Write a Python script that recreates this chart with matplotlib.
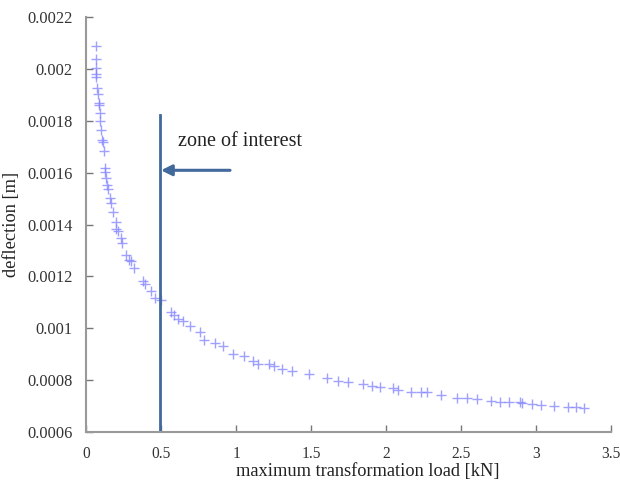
import matplotlib
matplotlib.use("Agg")
import matplotlib.pyplot as plt

load_kN = [0.065, 0.065, 0.065, 0.068, 0.068, 0.074, 0.078, 0.085, 0.087, 0.092, 0.096, 0.103,
           0.110, 0.114, 0.121, 0.130, 0.130, 0.132, 0.143, 0.148, 0.158, 0.165, 0.181,
           0.198, 0.203, 0.214, 0.231, 0.241, 0.269, 0.285, 0.298, 0.318, 0.380, 0.390,
           0.436, 0.458, 0.502, 0.568, 0.586, 0.613, 0.646, 0.690, 0.763, 0.786,
           0.861, 0.912, 0.979, 1.056, 1.112, 1.145, 1.222, 1.251, 1.304, 1.371,
           1.488, 1.606, 1.677, 1.743, 1.843, 1.903, 1.960, 2.049, 2.080, 2.169,
           2.231, 2.271, 2.368, 2.475, 2.537, 2.603, 2.696, 2.758, 2.818, 2.891,
           2.907, 2.973, 3.033, 3.117, 3.210, 3.268, 3.316]
deflection_m = [0.002088, 0.002038, 0.002003, 0.00198, 0.001967, 0.001926, 0.001903, 0.001868,
                0.00186, 0.00183, 0.0018, 0.001765, 0.001727, 0.00172, 0.001685, 0.001618,
                0.001601, 0.00158, 0.001554, 0.001537, 0.001503, 0.001483, 0.001447,
                0.001409, 0.001381, 0.001374, 0.001349, 0.00133, 0.001281, 0.001263,
                0.001259, 0.001233, 0.001182, 0.001172, 0.001143, 0.001118, 0.001109,
                0.001063, 0.00105, 0.001035, 0.001028, 0.001009, 0.000986, 0.000955,
                0.000945, 0.000932, 0.0009, 0.000894, 0.000874, 0.000862, 0.000862,
                0.000855, 0.000842, 0.000836, 0.000823, 0.000807, 0.000797, 0.000791,
                0.000785, 0.000778, 0.000772, 0.000768, 0.000763, 0.000755, 0.000753,
                0.000753, 0.000742, 0.000733, 0.000733, 0.000727, 0.00072, 0.000717,
                0.000714, 0.000714, 0.000712, 0.000708, 0.000704, 0.000701, 0.000695,
                0.000695, 0.000691]

x_ticks = [0, 0.5, 1, 1.5, 2, 2.5, 3, 3.5]
x_tick_labels = ["0", "0.5", "1", "1.5", "2", "2.5", "3", "3.5"]
y_ticks = [0.0006, 0.0008, 0.001, 0.0012, 0.0014, 0.0016, 0.0018, 0.002, 0.0022]
y_tick_labels = ["0.0006", "0.0008", "0.001", "0.0012", "0.0014", "0.0016", "0.0018", "0.002", "0.0022"]

zone_x = 0.49
zone_top = 0.001823
arrow_y = 0.001609
arrow_start_x = 0.96
annotation = "zone of interest"

plt.rcParams['font.family'] = ['Liberation Serif', 'DejaVu Serif']

fig = plt.figure(figsize=(6.2, 4.87), dpi=100)
ax = fig.add_axes([0.1387, 0.1129, 0.8470, 0.8522])

ax.plot(load_kN, deflection_m, linestyle='none', marker='+', markersize=7.5,
        markeredgewidth=1.0, color='#8080ff', alpha=0.75)

ax.plot([zone_x, zone_x], [0.0006, zone_top], color='#41699c', linewidth=2)
ax.annotate('', xy=(zone_x + 0.01, arrow_y), xytext=(arrow_start_x, arrow_y),
            arrowprops=dict(arrowstyle='-|>', color='#41699c', lw=2.2,
                            mutation_scale=16, shrinkA=0, shrinkB=0))
ax.text(0.612, 0.00172, annotation, fontsize=14.5, va='center', ha='left', color='#222222')

ax.set_xlim(0, 3.5)
ax.set_ylim(0.0006, 0.0022)
ax.set_xticks(x_ticks)
ax.set_xticklabels(x_tick_labels)
ax.set_yticks(y_ticks)
ax.set_yticklabels(y_tick_labels)
ax.tick_params(direction='in', length=5, width=1, color='#777777',
               labelcolor='#333333')
ax.tick_params(axis='y', pad=9.5, labelsize=11.8)
ax.tick_params(axis='x', pad=10, labelsize=11.2)

for s in ['top', 'right']:
    ax.spines[s].set_visible(False)
for s in ['left', 'bottom']:
    ax.spines[s].set_color('#999999')
    ax.spines[s].set_linewidth(1.5)

ax.set_xlabel('maximum transformation load [kN]', fontsize=13.2, color='#222222', labelpad=3)
ax.xaxis.set_label_coords(0.537, -0.075)
ax.set_ylabel('deflection [m]', fontsize=13.2, color='#222222', labelpad=5)

fig.savefig('out.png', dpi=100)
